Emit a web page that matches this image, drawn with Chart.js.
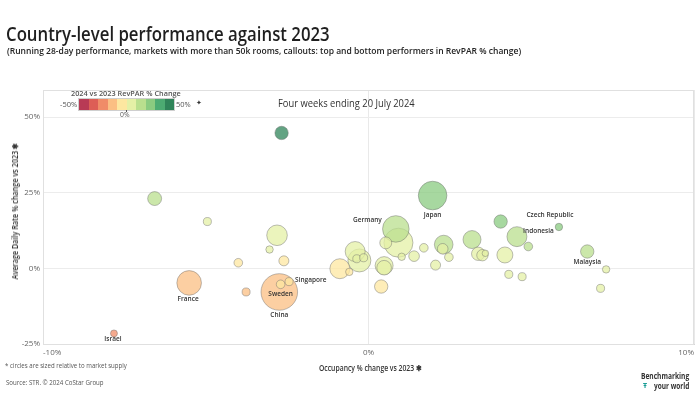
<!DOCTYPE html>
<html lang="en">
<head>
<meta charset="UTF-8">
<title>Country-level performance against 2023</title>
<script src="https://cdn.jsdelivr.net/npm/chart.js"></script>
<style>
  body { margin: 0; background: #fff; font-family: 'Open Sans', sans-serif; }
  #wrap { position: relative; width: 700px; height: 394px; overflow: hidden; }
  #chartBox { position: absolute; left: 0; top: 0; width: 700px; height: 394px; }
  .t { position: absolute; white-space: nowrap; line-height: 1; transform-origin: 0 0; color: #333; }
  .leg { font-size: 7.5px; color: #555; }
  #bar { position: absolute; left: 79px; top: 99px; width: 95px; height: 11px; display: flex; outline: 1px solid #cfcfcf; }
  #bar div { flex: 1; }
</style>
</head>
<body>
<div id="wrap">
  <div id="chartBox"><canvas id="chart"></canvas></div>

  <div class="t" data-w="324" style="left:6px; top:24.6px; font-size:19px; font-weight:600; color:#1f1f1f">Country-level performance against 2023</div>
  <div class="t" data-w="514" style="left:7px; top:45.9px; font-size:9.5px; font-weight:600; color:#222">(Running 28-day performance, markets with more than 50k rooms, callouts: top and bottom performers in RevPAR % change)</div>
  <div class="t" data-w="137" style="left:278px; top:97.2px; font-size:11px; color:#333">Four weeks ending 20 July 2024</div>

  <!-- legend -->
  <div class="t leg" data-w="110" style="left:71px; top:89.8px; font-weight:600">2024 vs 2023 RevPAR % Change</div>
  <div class="t leg" data-w="17" style="left:60px; top:100.8px">-50%</div>
  <div id="bar"></div>
  <div class="t leg" data-w="15" style="left:176px; top:100.8px">50%</div>
  <div class="t" style="left:196px; top:99px; font-size:7px; color:#333">✦</div>
  <div class="t leg" data-w="10" style="left:119.5px; top:110.8px">0%</div>
  <div style="position:absolute; left:126px; top:110px; width:1px; height:2px; background:#555"></div>

  <!-- axis titles -->
  <div class="t" id="ytitle" data-w="137" style="left:15px; top:211px; font-size:8px; font-weight:600; transform-origin:50% 50%">Average Daily Rate % change vs 2023 ✱</div>
  <div class="t" data-w="103" style="left:319px; top:363.9px; font-size:8px; font-weight:600">Occupancy % change vs 2023 ✱</div>

  <!-- footer -->
  <div class="t" data-w="122" style="left:5px; top:362.7px; font-size:6.5px; color:#555">* circles are sized relative to market supply</div>
  <div class="t" data-w="98" style="left:6px; top:380.2px; font-size:6.5px; color:#555">Source: STR. © 2024 CoStar Group</div>
  <div class="t" data-w="48" style="left:641px; top:371.9px; font-size:8px; font-weight:700; color:#333">Benchmarking</div>
  <div class="t" data-w="35" style="left:654px; top:381.9px; font-size:8px; font-weight:700; color:#333">your world</div>
  <div class="t" style="left:643px; top:382px; font-size:7px; font-weight:700; color:#1a9e96">Ŧ</div>
</div>

<script>
  // values (occupancy and ADR % change vs 2023, supply in thousand rooms)
  const names = ['', '', '', '', '', '', '', 'France', '', 'China',
                 'Sweden', 'Singapore', 'Israel', '', '', '', '', '', '', '',
                 '', '', 'Germany', '', '', '', '', '', 'Japan', '',
                 '', '', '', '', '', '', '', '', '', 'Indonesia',
                 '', 'Czech Republic', '', '', 'Malaysia', '', ''];
  const occChange = [-2.67, -6.57, -4.95, -2.81, -3.04, -2.60, -4.00, -5.51, -3.76, -2.74,
                     -2.70, -2.44, -7.82, -0.88, -0.59, -0.41, -0.28, -0.36, -0.15, 0.48,
                     0.48, 0.39, 0.84, 0.92, 0.53, 1.02, 1.40, 1.70, 1.97, 2.31,
                     2.28, 2.47, 2.06, 3.18, 3.37, 3.50, 3.59, 4.06, 4.19, 4.56,
                     4.91, 5.85, 4.31, 4.72, 6.72, 7.30, 7.13];
  const adrChange = [44.8, 23.1, 15.5, 10.95, 6.25, 2.5, 1.87, -4.8, -7.79, -7.79,
                     -5.26, -4.37, -21.5, -0.1, -1.15, 5.59, 2.63, 3.19, 3.52, 0.92,
                     0.23, -5.99, 13.06, 8.5, 8.45, 3.85, 4.05, 6.81, 24.1, 7.89,
                     6.48, 3.72, 1.09, 9.54, 4.84, 4.37, 5.0, 15.5, 4.44, 10.5,
                     7.24, 13.7, -1.97, -2.73, 5.59, -0.33, -6.6];
  const supply = [55, 60, 20, 131, 17, 31, 23, 187, 20, 413,
                  23, 20, 15, 123, 17, 123, 163, 20, 20, 100,
                  66, 55, 218, 260, 44, 17, 35, 23, 252, 107,
                  35, 23, 31, 100, 55, 40, 13, 55, 79, 123,
                  23, 17, 20, 20, 55, 17, 20];

  const xTicks = [-10, 0, 10];
  const yTicks = [-25, 0, 25, 50];
  const xRange = [-10, 10];
  const yRange = [-25, 59];
  const colourRange = [-50, 50];   // RevPAR % change covered by the legend

  // styles
  const palette = ['#b83a55', '#dd5e56', '#f08c68', '#fbbf83', '#fde7a0',
                   '#e4f0a6', '#b9df8e', '#8acb80', '#4cab72', '#2f8459'];
  const bubbleScale = 0.9;
  const labelOffsets = {
    'Israel': { dx: -1, dy: 6 },
    'France': { dx: -1, dy: 16.5 },
    'China': { dx: 0, dy: 23.5 },
    'Sweden': { dx: 0, dy: 10 },
    'Singapore': { dx: 6, dy: -1.5, align: 'left' },
    'Germany': { dx: -28.5, dy: -8.3 },
    'Japan': { dx: 0, dy: 20 },
    'Czech Republic': { dx: -9, dy: -11.6 },
    'Indonesia': { dx: 21.5, dy: -6 },
    'Malaysia': { dx: 0, dy: 11 }
  };

  // legend colour bar
  const bar = document.getElementById('bar');
  palette.forEach(c => {
    const d = document.createElement('div');
    d.style.background = c;
    bar.appendChild(d);
  });

  function revpar(o, a) {
    return ((1 + o / 100) * (1 + a / 100) - 1) * 100;
  }
  function stepColour(v) {
    const n = palette.length;
    let i = Math.floor((v - colourRange[0]) / (colourRange[1] - colourRange[0]) * n);
    i = Math.max(0, Math.min(n - 1, i));
    return palette[i];
  }
  function rgba(hex, a) {
    const n = parseInt(hex.slice(1), 16);
    return `rgba(${n >> 16},${(n >> 8) & 255},${n & 255},${a})`;
  }

  // bigger bubbles go underneath
  const points = names.map((n, i) => ({
    x: occChange[i],
    y: adrChange[i],
    r: bubbleScale * Math.sqrt(supply[i]),
    name: n,
    rv: revpar(occChange[i], adrChange[i])
  })).sort((a, b) => b.r - a.r);

  Chart.defaults.font.family = "'Open Sans', sans-serif";

  const frame = {
    id: 'frame',
    beforeDatasetsDraw(chart) {
      const { ctx, chartArea: a } = chart;
      ctx.save();
      ctx.strokeStyle = '#e0e0e0';
      ctx.lineWidth = 1;
      ctx.strokeRect(a.left + 0.5, a.top + 0.5, a.right - a.left - 1, a.bottom - a.top);
      ctx.restore();
    }
  };

  const countryLabels = {
    id: 'countryLabels',
    afterDatasetsDraw(chart) {
      const ctx = chart.ctx;
      const meta = chart.getDatasetMeta(0);
      ctx.save();
      ctx.font = "600 6.5px 'Open Sans', sans-serif";
      ctx.fillStyle = '#333';
      ctx.textBaseline = 'middle';
      meta.data.forEach((el, i) => {
        const p = points[i];
        if (!p.name) return;
        const o = labelOffsets[p.name] || { dx: 0, dy: p.r + 5 };
        ctx.textAlign = o.align || 'center';
        ctx.fillText(p.name, el.x + o.dx, el.y + o.dy);
      });
      ctx.restore();
    }
  };

  new Chart(document.getElementById('chart'), {
    type: 'bubble',
    data: {
      datasets: [{
        data: points,
        backgroundColor: points.map(p => rgba(stepColour(p.rv), 0.75)),
        borderColor: 'rgba(105,105,105,0.55)',
        borderWidth: 0.8,
        hoverBorderWidth: 0.8,
        clip: 20
      }]
    },
    options: {
      responsive: true,
      maintainAspectRatio: false,
      animation: false,
      events: [],
      layout: { autoPadding: false, padding: { top: 90, right: 6, left: 0, bottom: 0 } },
      plugins: { legend: { display: false }, tooltip: { enabled: false } },
      scales: {
        x: {
          type: 'linear',
          min: xRange[0],
          max: xRange[1],
          afterBuildTicks: s => { s.ticks = xTicks.map(v => ({ value: v })); },
          afterFit: s => { s.height = 50; },
          ticks: { align: 'inner', padding: 4, color: '#666', font: { size: 8 }, callback: v => v + '%' },
          grid: { color: '#e9e9e9', drawTicks: false },
          border: { color: '#d6d6d6' }
        },
        y: {
          type: 'linear',
          min: yRange[0],
          max: yRange[1],
          afterBuildTicks: s => { s.ticks = yTicks.map(v => ({ value: v })); },
          afterFit: s => { s.width = 43; },
          ticks: { padding: 3, color: '#666', font: { size: 8 }, callback: v => v + '%' },
          grid: { color: '#ececec', drawTicks: false },
          border: { color: '#d6d6d6' }
        }
      }
    },
    plugins: [frame, countryLabels]
  });

  // squeeze text to the widths seen in the picture
  function fitText() {
    document.querySelectorAll('[data-w]').forEach(el => {
      const s = (+el.dataset.w) / el.offsetWidth;
      if (el.id === 'ytitle') {
        el.style.transform = `translate(-50%, -50%) rotate(-90deg) scaleX(${s})`;
      } else {
        el.style.transform = `scaleX(${s})`;
      }
    });
  }
  fitText();
  document.fonts.ready.then(fitText);
</script>
</body>
</html>
